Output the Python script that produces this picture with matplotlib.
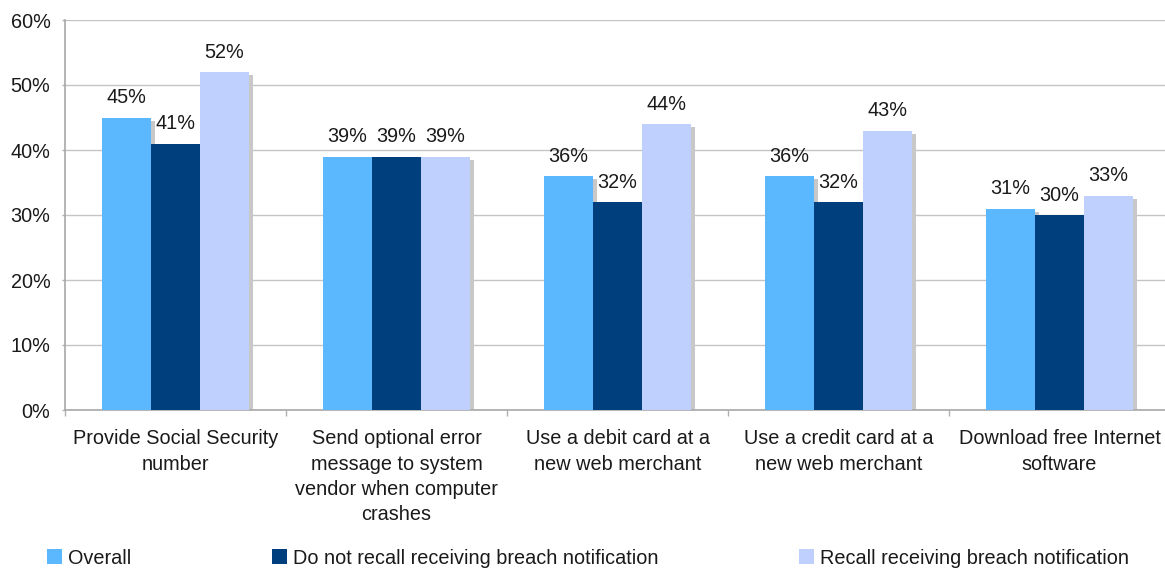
import matplotlib
matplotlib.use("Agg")
import matplotlib.pyplot as plt
import matplotlib.transforms as mtransforms
import numpy as np

plt.rcParams['font.family'] = ['Liberation Sans', 'DejaVu Sans']

categories = [
    "Provide Social Security\nnumber",
    "Send optional error\nmessage to system\nvendor when computer\ncrashes",
    "Use a debit card at a\nnew web merchant",
    "Use a credit card at a\nnew web merchant",
    "Download free Internet\nsoftware",
]
series_names = [
    "Overall",
    "Do not recall receiving breach notification",
    "Recall receiving breach notification",
]
overall = [45, 39, 36, 36, 31]
no_recall = [41, 39, 32, 32, 30]
recall = [52, 39, 44, 43, 33]
y_ticks = [0, 10, 20, 30, 40, 50, 60]

colors = ["#5BB8FE", "#003F7E", "#C0D0FE"]
series = [overall, no_recall, recall]
FS = 14.3

W, H = 1165, 568
fig = plt.figure(figsize=(W / 100, H / 100), dpi=100)
ax = fig.add_axes([65 / W, 1 - 410 / H, (1170 - 65) / W, (410 - 20) / H])

x = np.arange(len(categories))
bw = 0.222
offsets = [-bw, 0, bw]

shadow_tf = ax.transData + mtransforms.ScaledTranslation(4 / 100, -3 / 100, fig.dpi_scale_trans)
for vals, off in zip(series, offsets):
    ax.bar(x + off, vals, width=bw, color="#C8C8C8", transform=shadow_tf,
           zorder=2, linewidth=0)

for vals, off, c, name in zip(series, offsets, colors, series_names):
    bars = ax.bar(x + off, vals, width=bw, color=c, label=name, zorder=3, linewidth=0)
    for b, v in zip(bars, vals):
        ax.annotate(f"{v}%", (b.get_x() + b.get_width() / 2, v),
                    xytext=(0, 7.5), textcoords="offset points",
                    ha="center", va="bottom", fontsize=FS, color="#1A1A1A",
                    zorder=4)

ax.set_xlim(-0.5, len(categories) - 0.5)
ax.set_ylim(0, 60)
ax.set_yticks(y_ticks)
ax.set_yticklabels([f"{t}%" for t in y_ticks], fontsize=FS, color="#1A1A1A")
ax.yaxis.grid(True, color="#C4C4C4", linewidth=1.0, zorder=0)
ax.set_axisbelow(True)

ax.set_xticks(x)
ax.set_xticklabels(categories, fontsize=FS, color="#1A1A1A", linespacing=1.42,
                   va="top")
ax.set_xticks(np.arange(len(categories) + 1) - 0.5, minor=True)
ax.tick_params(axis="x", which="major", length=0, pad=14)
ax.tick_params(axis="x", which="minor", length=4, color="#B0B0B0", width=1)
ax.tick_params(axis="y", length=2.5, color="#B0B0B0", width=1, pad=8)

for side in ["top", "right"]:
    ax.spines[side].set_visible(False)
for side in ["left", "bottom"]:
    ax.spines[side].set_color("#A8A8A8")
    ax.spines[side].set_linewidth(1.2)

handles, labels = ax.get_legend_handles_labels()
fig.legend(handles, labels, loc="center left",
           bbox_to_anchor=(47 / W, 1 - 558 / H), ncol=3, frameon=False,
           fontsize=FS, handlelength=0.75, handleheight=0.75,
           handletextpad=0.3, columnspacing=7.1, borderpad=0, borderaxespad=0,
           labelcolor="#1A1A1A")

fig.savefig("out.png", dpi=100)
